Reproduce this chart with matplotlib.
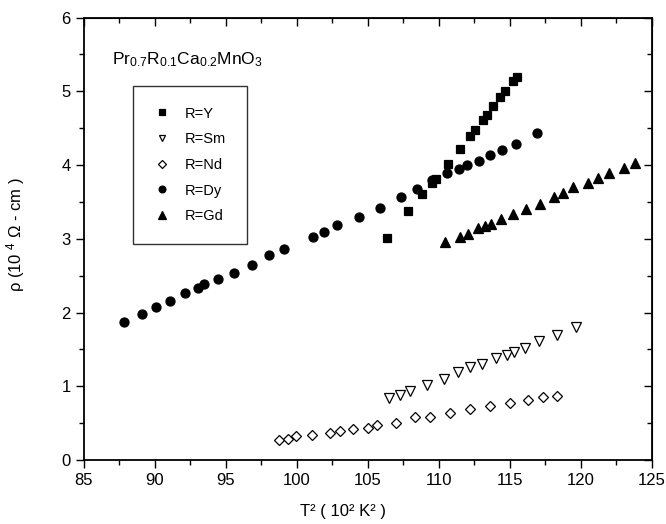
#!/usr/bin/env python3
"""
Resistivity vs T^2 for Pr0.7R0.1Ca0.2MnO3 (R = Y, Sm, Nd, Dy, Gd).
"""

import matplotlib
matplotlib.use("Agg")
import matplotlib.pyplot as plt
from matplotlib.ticker import MultipleLocator

plt.rcParams["font.family"] = ["Liberation Sans", "DejaVu Sans"]
plt.rcParams["mathtext.fontset"] = "custom"
plt.rcParams["mathtext.rm"] = "Liberation Sans"
plt.rcParams["mathtext.it"] = "Liberation Sans"

# values: T^2 in 10^2 K^2, rho in 10^4 Ohm-cm
y_t2 = [106.33, 107.86, 108.8, 109.5, 109.81, 110.63, 111.5, 112.2, 112.55,
        113.1, 113.42, 113.8, 114.3, 114.65, 115.25, 115.54]
y_rho = [3.01, 3.37, 3.61, 3.76, 3.81, 4.01, 4.22, 4.40, 4.47,
         4.61, 4.68, 4.80, 4.92, 5.00, 5.14, 5.20]

sm_t2 = [106.52, 107.27, 107.97, 109.15, 110.37, 111.38, 112.2, 113.03, 114.03,
         114.79, 115.3, 116.08, 117.09, 118.36, 119.65]
sm_rho = [0.84, 0.88, 0.94, 1.02, 1.10, 1.19, 1.26, 1.30, 1.39,
          1.43, 1.47, 1.52, 1.61, 1.69, 1.81]

nd_t2 = [98.77, 99.4, 99.92, 101.09, 102.3, 103.04, 103.98, 104.99, 105.63,
         106.99, 108.33, 109.38, 110.79, 112.2, 113.61, 115.02, 116.31, 117.33, 118.36]
nd_rho = [0.27, 0.29, 0.32, 0.34, 0.36, 0.40, 0.42, 0.44, 0.47,
          0.50, 0.58, 0.59, 0.64, 0.69, 0.73, 0.77, 0.81, 0.85, 0.87]

dy_t2 = [87.82, 89.11, 90.07, 91.04, 92.14, 93.03, 93.48, 94.42, 95.57, 96.86,
         98.04, 99.12, 101.12, 101.91, 102.85, 104.4, 105.86, 107.32, 108.49,
         109.55, 110.6, 111.45, 111.97, 112.81, 113.63, 114.44, 115.44, 116.9]
dy_rho = [1.87, 1.98, 2.07, 2.15, 2.27, 2.33, 2.38, 2.46, 2.54, 2.64,
          2.78, 2.86, 3.03, 3.09, 3.19, 3.30, 3.42, 3.56, 3.68,
          3.80, 3.89, 3.94, 4.00, 4.06, 4.14, 4.21, 4.29, 4.43]

gd_t2 = [110.44, 111.5, 112.08, 112.79, 113.26, 113.66, 114.37, 115.25, 116.13,
         117.14, 118.15, 118.78, 119.49, 120.54, 121.2, 122.02, 123.08, 123.83]
gd_rho = [2.95, 3.02, 3.07, 3.14, 3.17, 3.20, 3.27, 3.33, 3.40,
          3.47, 3.56, 3.62, 3.70, 3.75, 3.82, 3.89, 3.96, 4.03]

SERIES = [
    ("R=Y", y_t2, y_rho, "s", "black", 6.0),
    ("R=Sm", sm_t2, sm_rho, "v", "white", 6.5),
    ("R=Nd", nd_t2, nd_rho, "D", "white", 5.0),
    ("R=Dy", dy_t2, dy_rho, "o", "black", 6.5),
    ("R=Gd", gd_t2, gd_rho, "^", "black", 7.0),
]


def main() -> None:
    fig = plt.figure(figsize=(6.66, 5.24), dpi=100)
    ax = fig.add_axes([0.1261, 0.1221, 0.8524, 0.8445])

    for label, xs, ys, marker, face, ms in SERIES:
        ax.plot(xs, ys, linestyle="none", marker=marker, markersize=ms,
                markerfacecolor=face, markeredgecolor="black",
                markeredgewidth=0.9, label=label)

    ax.set_xlim(85, 125)
    ax.set_ylim(0, 6)
    ax.xaxis.set_major_locator(MultipleLocator(5))
    ax.xaxis.set_minor_locator(MultipleLocator(2.5))
    ax.yaxis.set_major_locator(MultipleLocator(1))
    ax.yaxis.set_minor_locator(MultipleLocator(0.5))
    ax.tick_params(axis="both", which="major", direction="out", length=6,
                   width=1.0, labelsize=12)
    ax.tick_params(axis="both", which="minor", direction="out", length=3.5,
                   width=1.0)
    for spine in ax.spines.values():
        spine.set_linewidth(1.3)

    # mirrored ticks on top and right point into the plot
    top = ax.secondary_xaxis("top")
    top.xaxis.set_major_locator(MultipleLocator(5))
    top.xaxis.set_minor_locator(MultipleLocator(2.5))
    top.tick_params(which="major", direction="in", length=6, width=1.0, labeltop=False)
    top.tick_params(which="minor", direction="in", length=3.5, width=1.0)
    right = ax.secondary_yaxis("right")
    right.yaxis.set_major_locator(MultipleLocator(1))
    right.yaxis.set_minor_locator(MultipleLocator(0.5))
    right.tick_params(which="major", direction="in", length=6, width=1.0, labelright=False)
    right.tick_params(which="minor", direction="in", length=3.5, width=1.0)

    ax.set_xlabel("T² ( 10² K² )", fontsize=12)
    ax.set_ylabel("ρ (10 $^{4}$ Ω - cm )", fontsize=12)
    ax.xaxis.set_label_coords(0.456, -0.10)
    ax.yaxis.set_label_coords(-0.10, 0.51)

    ax.text(86.95, 5.37, r"Pr$_{0.7}$R$_{0.1}$Ca$_{0.2}$MnO$_3$", fontsize=12.5,
            ha="left", va="baseline")

    leg = ax.legend(loc="upper left", bbox_to_anchor=(0.0858, 0.845),
                    borderaxespad=0, frameon=True, fancybox=False,
                    edgecolor="black", fontsize=10.5, markerscale=0.75,
                    handlelength=1.2, handletextpad=1.0, labelspacing=0.8,
                    borderpad=1.4)
    leg.get_frame().set_linewidth(1.0)

    fig.savefig("out.png", dpi=100)
    plt.close(fig)


if __name__ == "__main__":
    main()
